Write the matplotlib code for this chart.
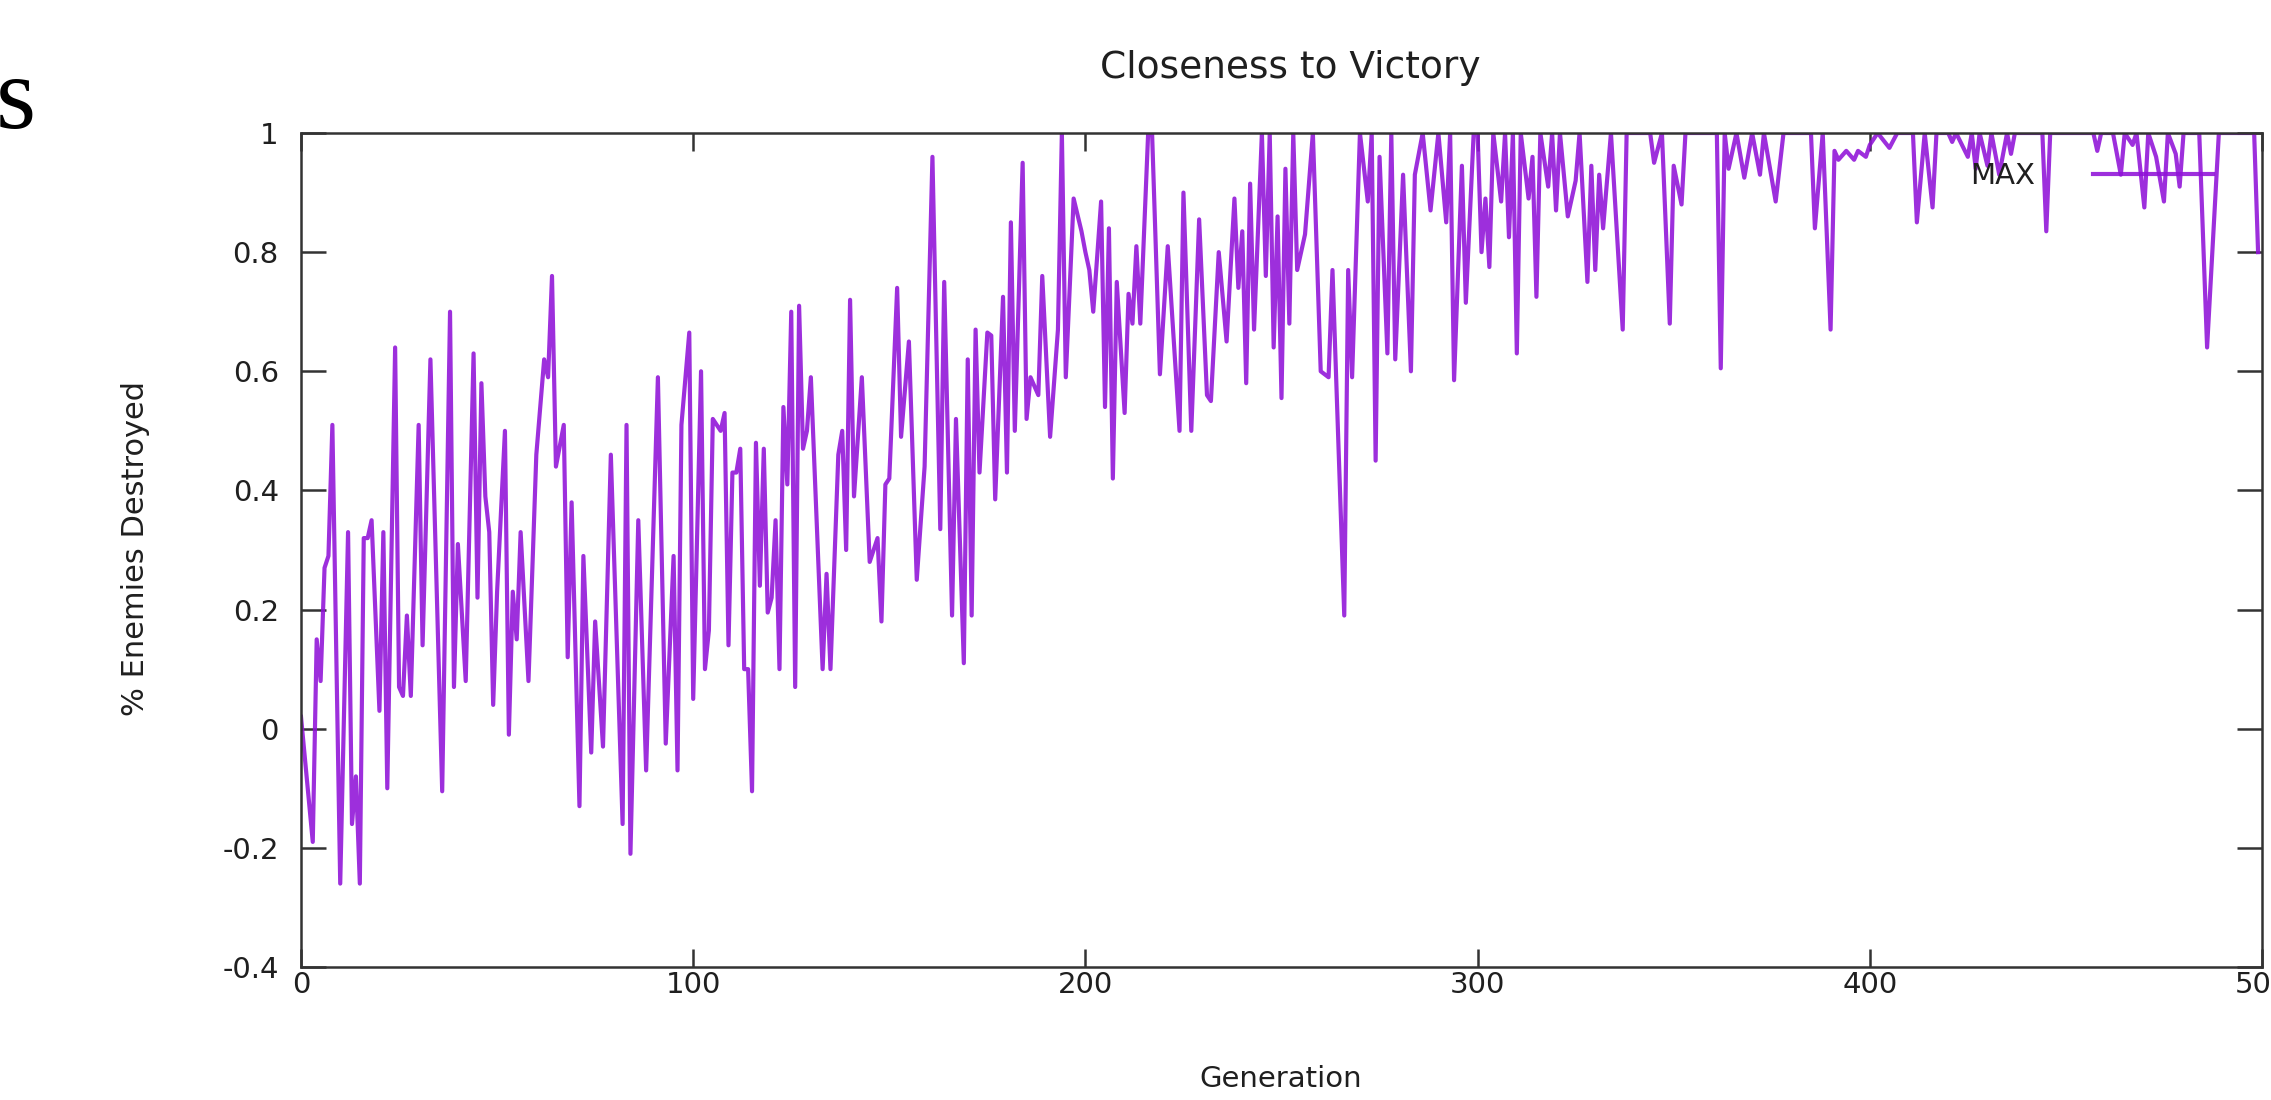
# Closeness to Victory - MAX fitness per generation (gnuplot-style look)
import matplotlib
matplotlib.use("Agg")
import matplotlib.pyplot as plt

# --- data (generation, best % of enemies destroyed) ---
generation = [
    0, 3, 4, 5, 6, 7, 8, 10, 12, 13, 14, 15, 16, 17, 18, 20, 21, 22, 24, 25,
    26, 27, 28, 30, 31, 33, 36, 38, 39, 40, 42, 44, 45, 46, 47, 48, 49, 50, 52, 53,
    54, 55, 56, 58, 60, 62, 63, 64, 65, 67, 68, 69, 71, 72, 74, 75, 77, 79, 82, 83,
    84, 86, 88, 91, 93, 95, 96, 97, 99, 100, 102, 103,
    104, 105, 107, 108, 109, 110, 111, 112, 113, 114, 115, 116, 117, 118, 119, 120,
    121, 122, 123, 124, 125, 126, 127, 128, 129, 130, 133, 134, 135, 137, 138, 139,
    140, 141, 143, 145, 147, 148, 149, 150, 152, 153, 155, 157, 159, 161, 163, 164,
    166, 167, 169, 170, 171, 172, 173, 175, 176, 177, 179, 180, 181, 182, 184, 185,
    186, 188, 189, 191, 193, 194, 195, 197, 199,
    200, 201, 202, 204, 205, 206, 207, 208, 210, 211, 212, 213, 214, 216, 217, 219,
    221, 224, 225, 227, 229, 231, 232, 234, 236, 238, 239, 240, 241, 242, 243, 245,
    246, 247, 248, 249, 250, 251, 252, 253, 254, 256, 258, 260, 262, 263, 266, 267,
    268, 270, 272, 273, 274, 275, 277, 278, 279, 281, 283, 284, 286, 288, 290, 292,
    293, 294, 296, 297, 299,
    300, 301, 302, 303, 304, 306, 307, 308, 309, 310, 311, 313, 314, 315, 316, 318,
    319, 320, 321, 323, 325, 326, 328, 329, 330, 331, 332, 334, 337, 338, 344, 345,
    347, 349, 350, 352, 353, 361, 362, 363, 364, 366, 368, 370, 372, 373, 376, 378,
    385, 386, 388, 390, 391, 392, 394, 396, 397, 399,
    400, 402, 405, 407, 411, 412, 414, 416, 417, 420, 421, 422, 425, 426, 427, 428,
    430, 431, 433, 435, 436, 437, 444, 445, 446, 457, 458, 459, 462, 464, 465, 467,
    468, 470, 471, 473, 475, 476, 478, 479, 480, 484, 486, 489, 498, 499,
]
max_destroyed = [
    0.02, -0.19, 0.15, 0.08, 0.27, 0.29, 0.51, -0.26, 0.33, -0.16, -0.08, -0.26, 0.32, 0.32, 0.35, 0.03, 0.33, -0.10, 0.64, 0.07,
    0.055, 0.19, 0.055, 0.51, 0.14, 0.62, -0.105, 0.70, 0.07, 0.31, 0.08, 0.63, 0.22, 0.58, 0.39, 0.33, 0.04, 0.23, 0.50, -0.01,
    0.23, 0.15, 0.33, 0.08, 0.46, 0.62, 0.59, 0.76, 0.44, 0.51, 0.12, 0.38, -0.13, 0.29, -0.04, 0.18, -0.03, 0.46, -0.16, 0.51,
    -0.21, 0.35, -0.07, 0.59, -0.025, 0.29, -0.07, 0.51, 0.665, 0.05, 0.60, 0.10,
    0.165, 0.52, 0.50, 0.53, 0.14, 0.43, 0.43, 0.47, 0.10, 0.10, -0.105, 0.48, 0.24, 0.47, 0.195, 0.22,
    0.35, 0.10, 0.54, 0.41, 0.70, 0.07, 0.71, 0.47, 0.50, 0.59, 0.10, 0.26, 0.10, 0.46, 0.50, 0.30,
    0.72, 0.39, 0.59, 0.28, 0.32, 0.18, 0.41, 0.42, 0.74, 0.49, 0.65, 0.25, 0.44, 0.96, 0.335, 0.75,
    0.19, 0.52, 0.11, 0.62, 0.19, 0.67, 0.43, 0.665, 0.66, 0.385, 0.725, 0.43, 0.85, 0.50, 0.95, 0.52,
    0.59, 0.56, 0.76, 0.49, 0.67, 1.0, 0.59, 0.89, 0.835,
    0.80, 0.77, 0.70, 0.885, 0.54, 0.84, 0.42, 0.75, 0.53, 0.73, 0.68, 0.81, 0.68, 1.0, 1.0, 0.595,
    0.81, 0.50, 0.90, 0.50, 0.855, 0.56, 0.55, 0.80, 0.65, 0.89, 0.74, 0.835, 0.58, 0.915, 0.67, 1.0,
    0.76, 1.0, 0.64, 0.86, 0.555, 0.94, 0.68, 1.0, 0.77, 0.83, 1.0, 0.60, 0.59, 0.77, 0.19, 0.77,
    0.59, 1.0, 0.885, 1.0, 0.45, 0.96, 0.63, 1.0, 0.62, 0.93, 0.60, 0.93, 1.0, 0.87, 1.0, 0.85,
    1.0, 0.585, 0.945, 0.715, 1.0,
    1.0, 0.80, 0.89, 0.775, 1.0, 0.885, 1.0, 0.825, 1.0, 0.63, 1.0, 0.89, 0.96, 0.725, 1.0, 0.91,
    1.0, 0.87, 1.0, 0.86, 0.92, 1.0, 0.75, 0.945, 0.77, 0.93, 0.84, 1.0, 0.67, 1.0, 1.0, 0.95,
    1.0, 0.68, 0.945, 0.88, 1.0, 1.0, 0.605, 1.0, 0.94, 1.0, 0.925, 1.0, 0.93, 1.0, 0.885, 1.0,
    1.0, 0.84, 1.0, 0.67, 0.97, 0.955, 0.97, 0.955, 0.97, 0.96,
    0.98, 1.0, 0.975, 1.0, 1.0, 0.85, 1.0, 0.875, 1.0, 1.0, 0.985, 1.0, 0.96, 1.0, 0.94, 1.0,
    0.945, 1.0, 0.93, 1.0, 0.965, 1.0, 1.0, 0.835, 1.0, 1.0, 0.97, 1.0, 1.0, 0.93, 1.0, 0.98,
    1.0, 0.875, 1.0, 0.96, 0.885, 1.0, 0.965, 0.91, 1.0, 1.0, 0.64, 1.0, 1.0, 0.80,
]

x_ticks = [0, 100, 200, 300, 400, 500]
y_ticks = [-0.4, -0.2, 0, 0.2, 0.4, 0.6, 0.8, 1]
y_tick_labels = ["-0.4", "-0.2", "0", "0.2", "0.4", "0.6", "0.8", "1"]

W, H = 2271, 1100
fig = plt.figure(figsize=(W / 100, H / 100), dpi=100)
plt.rcParams["font.family"] = ["DejaVu Sans"]
txt_col = "#1f1f1f"

# axes box in pixels: x 301..2262, y 133..967
ax = fig.add_axes([301 / W, 1 - 967 / H, (2262 - 301) / W, (967 - 133) / H])

ax.plot(generation, max_destroyed, color="#9012d8", lw=3.0, alpha=0.88, label="MAX")

ax.set_xlim(0, 500)
ax.set_ylim(-0.4, 1)
ax.set_xticks(x_ticks)
ax.set_yticks(y_ticks)
ax.set_yticklabels(y_tick_labels)

for s in ax.spines.values():
    s.set_color("#333333")
    s.set_linewidth(1.8)

ax.tick_params(axis="both", direction="in", top=True, right=True, color="#333333",
               width=1.8, labelsize=21, labelcolor=txt_col)
ax.tick_params(axis="x", length=13, pad=3)
ax.tick_params(axis="y", length=18, pad=16)

leg = ax.legend(loc="center right", bbox_to_anchor=((2213 - 301) / (2262 - 301), (967 - 176) / (967 - 133)),
                frameon=False, markerfirst=False, fontsize=21, handlelength=4.1,
                handletextpad=2.0, borderpad=0, borderaxespad=0)
for t in leg.get_texts():
    t.set_color(txt_col)

fig.text(1290 / W, 1 - 68 / H, "Closeness to Victory", ha="center", va="center",
         fontsize=27, color=txt_col)
fig.text(1281 / W, 1 - 1079 / H, "Generation", ha="center", va="center",
         fontsize=21, color=txt_col)
fig.text(135 / W, 1 - 548 / H, "% Enemies Destroyed", ha="center", va="center",
         rotation=90, fontsize=22, color=txt_col)

# stray glyph from the surrounding page in the crop
fig.text(-0.002, 1 - 128 / H, "s", ha="left", va="baseline", fontsize=74,
         family="Liberation Serif", color="black")

fig.savefig("out.png", dpi=100, facecolor="white")
